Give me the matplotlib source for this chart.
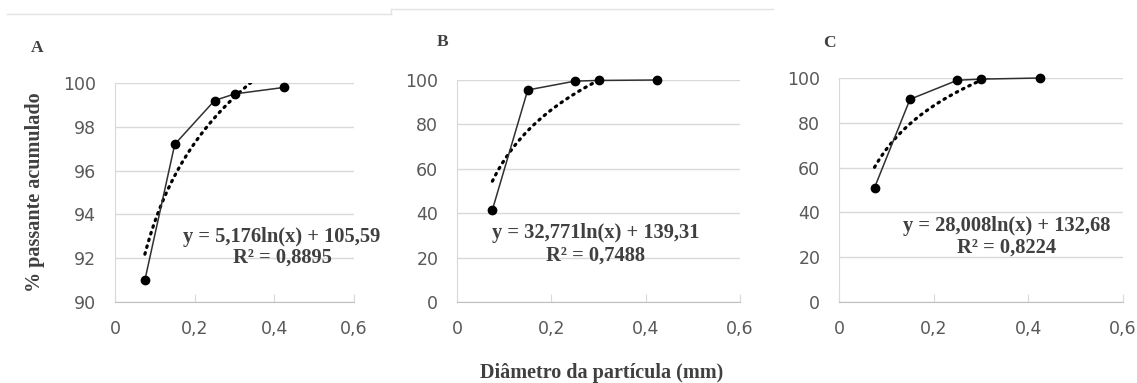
import numpy as np
import matplotlib
matplotlib.use("Agg")
import matplotlib.pyplot as plt
from matplotlib.ticker import FuncFormatter
from matplotlib.lines import Line2D

# ---- data ----
diam = [0.075, 0.15, 0.25, 0.30, 0.425]
pass_A = [91.0, 97.2, 99.2, 99.5, 99.8]
pass_B = [41.5, 95.5, 99.5, 99.8, 100.0]
pass_C = [51.0, 90.5, 99.0, 99.5, 100.0]
fit_A = (5.176, 105.59)
fit_B = (32.771, 139.31)
fit_C = (28.008, 132.68)
eq_A = ["y = 5,176ln(x) + 105,59", "R² = 0,8895"]
eq_B = ["y = 32,771ln(x) + 139,31", "R² = 0,7488"]
eq_C = ["y = 28,008ln(x) + 132,68", "R² = 0,8224"]
labels = ["A", "B", "C"]
xticks = [0, 0.2, 0.4, 0.6]
yticks_A = [90, 92, 94, 96, 98, 100]
yticks_BC = [0, 20, 40, 60, 80, 100]

W, H = 1137, 383
fig = plt.figure(figsize=(W / 100, H / 100), dpi=100)

serif = ["Liberation Serif", "DejaVu Serif"]
sans = ["DejaVu Sans"]
tick_col = "#595959"
txt_col = "#404040"

def px(x0, y0, x1, y1):
    return [x0 / W, 1 - y1 / H, (x1 - x0) / W, (y1 - y0) / H]

panels = [
    (px(115, 83, 354, 302), pass_A, fit_A, eq_A, yticks_A, (282, 237, 258), (37, 48)),
    (px(457, 80, 740, 302), pass_B, fit_B, eq_B, yticks_BC, (596, 233, 256), (443, 42)),
    (px(839, 78, 1123, 302), pass_C, fit_C, eq_C, yticks_BC, (1007, 226, 248), (829, 43)),
]

xfit = np.linspace(min(diam), max(diam), 300)
for i, (rect, vals, fit, eq, yt, eqpos, lblpos) in enumerate(panels):
    ax = fig.add_axes(rect)
    ax.set_xlim(0, 0.6)
    ax.set_ylim(yt[0], yt[-1])
    ax.set_xticks(xticks)
    ax.set_yticks(yt)
    ax.xaxis.set_major_formatter(FuncFormatter(lambda v, p: ("%g" % v).replace(".", ",")))
    ax.grid(axis="y", color="#d9d9d9", lw=1)
    ax.set_axisbelow(True)
    for s in ["top", "right"]:
        ax.spines[s].set_visible(False)
    ax.spines["left"].set_color("#d9d9d9")
    ax.spines["bottom"].set_color("#bfbfbf")
    ax.tick_params(axis="x", direction="in", length=6, color="#d9d9d9", colors=tick_col,
                   labelsize=12.5, pad=13)
    ax.tick_params(axis="y", length=0, colors=tick_col, labelsize=12.5, pad=13.5)
    for t in ax.get_xticklabels() + ax.get_yticklabels():
        t.set_family(sans)
    a, b = fit
    yfit = a * np.log(xfit) + b
    ax.plot(xfit, yfit, color="black", lw=2.3, ls=(0, (0.5, 1.7)), dash_capstyle="round",
            clip_on=True, zorder=3)
    ax.plot(diam, vals, color="#303030", lw=1.1, marker="o", ms=6,
            mfc="black", mec="black", zorder=4, clip_on=False)
    cx, y1, y2 = eqpos
    fig.text(cx / W, 1 - y1 / H, eq[0], ha="center", va="center",
             family=serif, fontweight="bold", fontsize=14.8, color=txt_col)
    fig.text(cx / W, 1 - y2 / H, eq[1], ha="center", va="center",
             family=serif, fontweight="bold", fontsize=14.8, color=txt_col)
    fig.text(lblpos[0] / W, 1 - lblpos[1] / H, labels[i], ha="center", va="center",
             family=serif, fontweight="bold", fontsize=12.5, color=txt_col)

fig.text(35 / W, 1 - 192 / H, "% passante acumulado", rotation=90, ha="center", va="center",
         family=serif, fontweight="bold", fontsize=14.5, color=txt_col)
fig.text(602 / W, 1 - 373 / H, "Diâmetro da partícula (mm)", ha="center", va="center",
         family=serif, fontweight="bold", fontsize=14.5, color=txt_col)

# chart-area border remnants at the top
fig.add_artist(Line2D([7 / W, 391 / W], [1 - 14 / H, 1 - 14 / H], color="#e3e3e3", lw=1))
fig.add_artist(Line2D([391 / W, 391 / W], [1 - 14 / H, 1 - 9 / H], color="#e3e3e3", lw=1))
fig.add_artist(Line2D([391 / W, 773 / W], [1 - 9 / H, 1 - 9 / H], color="#e3e3e3", lw=1))

fig.savefig("out.png", dpi=100)
